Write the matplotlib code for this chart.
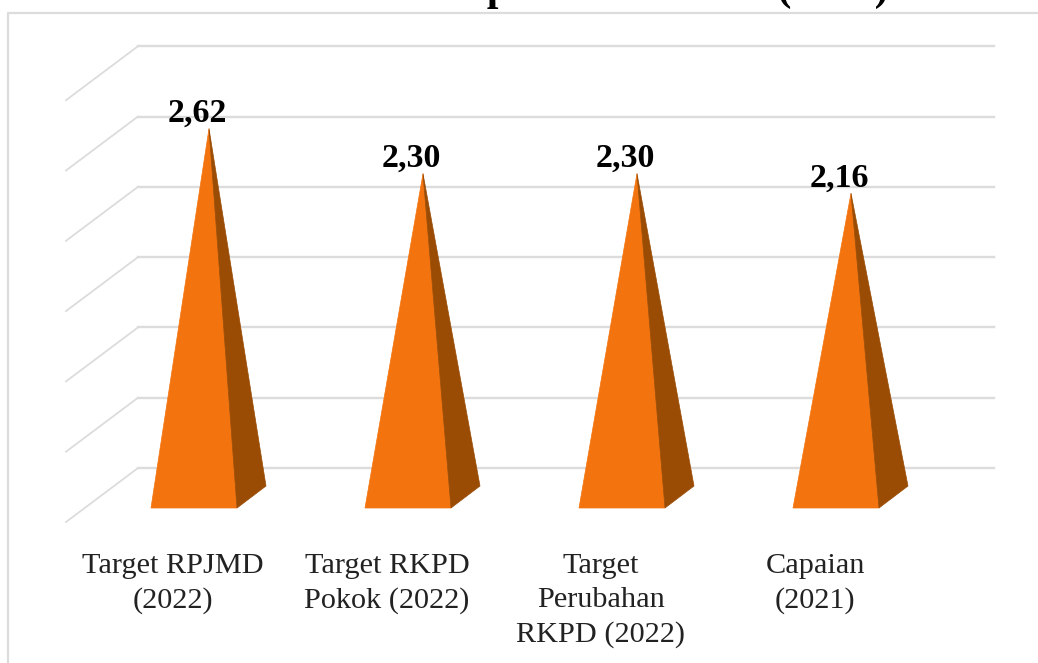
import matplotlib
matplotlib.use('Agg')
import matplotlib.pyplot as plt
from matplotlib.patches import Polygon

plt.rcParams['font.family'] = ['Liberation Serif', 'DejaVu Serif']

W, H, DPI = 1038, 663, 100

CATEGORIES = ['Target RPJMD\n(2022)', 'Target RKPD\nPokok (2022)',
              'Target\nPerubahan\nRKPD (2022)', 'Capaian\n(2021)']
VALUES = [2.62, 2.30, 2.30, 2.16]
VALUE_LABELS = ['2,62', '2,30', '2,30', '2,16']
GRID_TICKS = [0.0, 0.5, 1.0, 1.5, 2.0, 2.5, 3.0]
TITLE = 'Capaian Indikator (2021)'

ORANGE = '#f3740f'
BROWN = '#9a4c05'
GRID = '#dcdcdc'
TEXT = '#222222'

# pixel scale of the fake 3d box
PX_PER_CAT = 214.0
PX_PER_UNIT = 140.6
APEX_X0 = 209.0
ZERO_Y = 497.0


def px_x(px):
    return (px - APEX_X0) / PX_PER_CAT


def px_y(px):
    return (ZERO_Y - px) / PX_PER_UNIT


fig = plt.figure(figsize=(W / DPI, H / DPI), dpi=DPI)
ax = fig.add_axes([0, 0, 1, 1])
ax.set_xlim(px_x(0), px_x(W))
ax.set_ylim(px_y(H), px_y(0))
ax.axis('off')

# steps from the pyramid plane to the back wall and the front of the floor
wall_dy = 29 / PX_PER_UNIT
front_dy = -25 / PX_PER_UNIT
left = px_x(66)
corner = px_x(138)
right = px_x(994)

# chart frame, runs off the top right of the crop
ax.plot([px_x(8), px_x(8), px_x(W + 5)], [px_y(H + 5), px_y(13), px_y(13)],
        color=GRID, lw=1.6, zorder=1)

for t in GRID_TICKS:
    ax.plot([corner, right], [t + wall_dy, t + wall_dy], color=GRID, lw=1.7, zorder=1)
    ax.plot([left, corner], [t + front_dy, t + wall_dy], color=GRID, lw=1.3, zorder=1)

for i, (cat, val, lab) in enumerate(zip(CATEGORIES, VALUES, VALUE_LABELS)):
    # base corners relative to the apex, in axis units
    fl = (i - 58 / PX_PER_CAT, -11 / PX_PER_UNIT)
    fr = (i + 28 / PX_PER_CAT, -11 / PX_PER_UNIT)
    br = (i + 57 / PX_PER_CAT, 11 / PX_PER_UNIT)
    ax.add_patch(Polygon([(i, val), fl, fr], closed=True, fc=ORANGE, ec=ORANGE, lw=0.5, zorder=3))
    ax.add_patch(Polygon([(i, val), fr, br], closed=True, fc=BROWN, ec=BROWN, lw=0.5, zorder=3))

    ax.text(i - 12 / PX_PER_CAT, val + 7 / PX_PER_UNIT, lab, ha='center', va='baseline',
            fontsize=24.5, fontweight='bold', color='black', zorder=4)
    ax.text(i - 36 / PX_PER_CAT, px_y(553), cat, ha='center', va='top',
            fontsize=21.8, color=TEXT, linespacing=1.4, zorder=4)

ax.text(px_x(888), px_y(0), TITLE, ha='right', va='baseline',
        fontsize=30, fontweight='bold', color='black', zorder=4)

fig.savefig('out.png', dpi=DPI)
